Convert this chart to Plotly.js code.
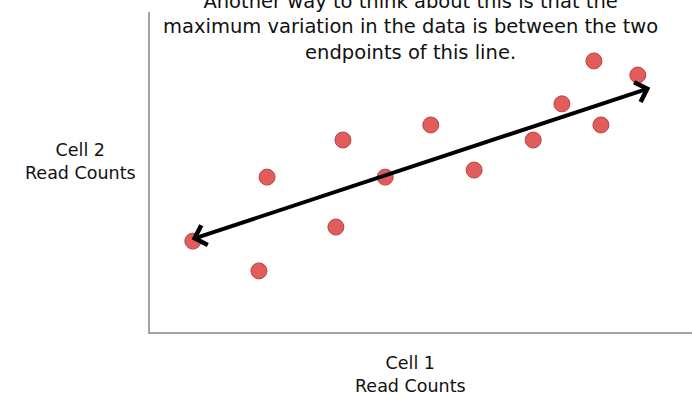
<!DOCTYPE html>
<html>
<head>
<meta charset="utf-8">
<script src="https://cdn.plot.ly/plotly-3.0.1.min.js"></script>
<style>html,body{margin:0;padding:0;background:#fff;}#chart{width:692px;height:401px;}</style>
</head>
<body>
<div id="chart"></div>
<script>
// Cell read counts (arbitrary units, 0-100 scale)
const cell1Counts = [7.9, 20.1, 21.6, 34.3, 35.6, 43.4, 51.8, 59.8, 70.7, 76.0, 81.9, 83.2, 90.0];
const cell2Counts = [28.4, 19.1, 48.4, 32.8, 60.0, 48.4, 64.7, 50.6, 60.0, 71.3, 84.7, 64.7, 80.3];
// Endpoints of the maximum-variation line
const lineStart = [7.4, 28.8];
const lineEnd = [92.3, 76.3];
const titleText = "Another way to think about this is that the<br>maximum variation in the data is between the two<br>endpoints of this line.";
const xLabel = "Cell 1<br>Read Counts";
const yLabel = "Cell 2<br>Read Counts";

const font = "'DejaVu Sans', sans-serif";

const trace = {
  x: cell1Counts,
  y: cell2Counts,
  mode: 'markers',
  type: 'scatter',
  marker: {
    size: 16,
    color: '#e35c5c',
    line: {color: '#b84545', width: 1}
  },
  hoverinfo: 'skip'
};

const layout = {
  width: 692,
  height: 401,
  margin: {l: 150, r: 0, t: 12, b: 69},
  paper_bgcolor: '#ffffff',
  plot_bgcolor: '#ffffff',
  showlegend: false,
  xaxis: {
    range: [0, 100], showgrid: false, zeroline: false, showticklabels: false, ticks: '',
    showline: true, linecolor: '#a3a3a3', linewidth: 2, fixedrange: true
  },
  yaxis: {
    range: [0, 100], showgrid: false, zeroline: false, showticklabels: false, ticks: '',
    showline: true, linecolor: '#a3a3a3', linewidth: 2, fixedrange: true
  },
  annotations: [
    {
      x: lineEnd[0], y: lineEnd[1], ax: lineStart[0], ay: lineStart[1],
      xref: 'x', yref: 'y', axref: 'x', ayref: 'y',
      text: '', showarrow: true, arrowhead: 4, startarrowhead: 4,
      arrowside: 'end+start', arrowwidth: 4, arrowsize: 1, startarrowsize: 1,
      arrowcolor: '#000000'
    },
    {
      x: 0.4815, y: 0.953, xref: 'paper', yref: 'paper',
      xanchor: 'center', yanchor: 'middle', showarrow: false,
      text: titleText, align: 'center',
      font: {family: font, size: 19.5, color: '#111'}
    },
    {
      x: -0.129, y: 0.534, xref: 'paper', yref: 'paper',
      xanchor: 'center', yanchor: 'middle', showarrow: false,
      text: yLabel, align: 'center',
      font: {family: font, size: 17.5, color: '#111'}
    },
    {
      x: 0.4815, y: -0.134, xref: 'paper', yref: 'paper',
      xanchor: 'center', yanchor: 'middle', showarrow: false,
      text: xLabel, align: 'center',
      font: {family: font, size: 17.5, color: '#111'}
    }
  ]
};

Plotly.newPlot('chart', [trace], layout, {displayModeBar: false, staticPlot: true});
</script>
</body>
</html>
